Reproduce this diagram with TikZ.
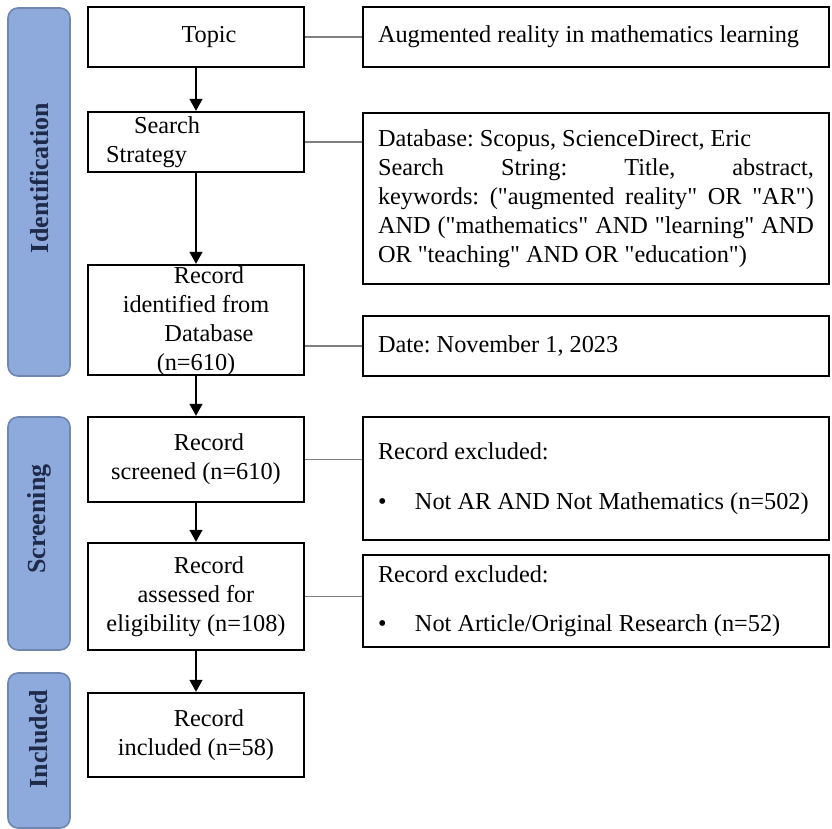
\documentclass[tikz,border=0pt]{standalone}
\usepackage{fontspec}
\setmainfont{Liberation Serif}
\newfontfamily\plainrm{Liberation Serif}
\usetikzlibrary{arrows.meta}
\definecolor{barfill}{HTML}{8EA9DB}
\definecolor{bardraw}{HTML}{6F86AE}
\definecolor{barlab}{HTML}{1F2A48}
\definecolor{linkgray}{HTML}{7F7F7F}
\begin{document}
\begin{tikzpicture}[x=0.5pt,y=-0.5pt,
  txt/.style={font=\fontsize{12.15pt}{14.5pt}\selectfont\frenchspacing},
  mainbox/.style={draw=black, line width=1.2pt, fill=white, minimum width=108pt,
    inner xsep=4pt, inner ysep=0pt, align=flush center, txt},
  sidebox/.style={draw=black, line width=1.2pt, fill=white, minimum width=233pt,
    text width=218pt, inner xsep=7.5pt, inner ysep=0pt, align=flush left, txt},
  phasebar/.style={draw=bardraw, line width=0.8pt, fill=barfill, rounded corners=5pt,
    minimum width=31pt, inner sep=0pt},
  phaselabel/.style={rotate=90, text=barlab, inner sep=0pt,
    font=\fontsize{13pt}{15pt}\selectfont\bfseries},
  flow/.style={draw=black, line width=0.7pt, -{Triangle[width=6.5pt,length=6pt]}},
  link/.style={draw=linkgray, line width=0.7pt}]
\useasboundingbox (0,0) rectangle (832,829);

% phase bars
\node[phasebar, minimum height=184pt] (idbar) at (39,192) {};
\node[phaselabel] (idlab) at (39,178) {Identification};
\node[phasebar, minimum height=116.5pt] (scbar) at (39,533.5) {};
\node[phaselabel] (sclab) at (39,519) {Screening};
\node[phasebar, minimum height=77.5pt] (inbar) at (39,750.5) {};
\node[phaselabel] (inlab) at (39,739) {Included};

% main column
\node[mainbox, minimum height=30pt] (topic) at (196,37) {\hspace*{13pt}Topic};
\node[mainbox, minimum height=30pt, text width=90pt, inner xsep=9pt, align=flush left]
  (search) at (196,142) {\hspace*{14pt}Search\\Strategy};
\node[mainbox, minimum height=55pt] (ident) at (196,320) {};
\node[txt, align=flush center, inner sep=0pt] (identtext) at (196,321.5)
  {\hspace*{13pt}Record\\identified from\\\hspace*{13pt}Database\\(n=610)};
\node[mainbox, minimum height=42.5pt] (screened) at (196,459.5)
  {\hspace*{13pt}Record\\screened (n=610)};
\node[mainbox, minimum height=53.5pt] (assessed) at (196,596.5)
  {\hspace*{13pt}Record\\assessed for\\eligibility (n=108)};
\node[mainbox, minimum height=42pt] (included) at (196,735)
  {\hspace*{13pt}Record\\included (n=58)};

% right column
\node[sidebox, minimum height=30pt] (rtopic) at (596,37)
  {Augmented reality in mathematics learning};
\node[sidebox, minimum height=85.5pt] (rsearch) at (596,198.5)
  {\plainrm Database: Scopus, ScienceDirect, Eric\\
   \makebox[218pt][s]{Search String: Title, abstract,}\\
   \makebox[218pt][s]{keywords: ("augmented reality" OR "AR")}\\
   \makebox[218pt][s]{AND ("mathematics" AND "learning" AND}\\
   OR "teaching" AND OR "education")};
\node[sidebox, minimum height=30pt] (rdate) at (596,346)
  {Date: November 1, 2023};
\node[sidebox, minimum height=61.5pt] (rexc1) at (596,478.5)
  {Record excluded:\\[10.5pt]\makebox[18.5pt][l]{\textbullet}Not AR AND Not Mathematics (n=502)};
\node[sidebox, minimum height=46pt] (rexc2) at (596,601)
  {Record excluded:\\[10pt]\makebox[18.5pt][l]{\textbullet}Not Article/Original Research (n=52)};

% flow arrows
\draw[flow] (topic) -- (search);
\draw[flow] (search) -- (ident);
\draw[flow] (ident) -- (screened);
\draw[flow] (screened) -- (assessed);
\draw[flow] (assessed) -- (included);

% side links
\draw[link] (topic.east) -- (rtopic.west);
\draw[link] (search.east) -- (search.east -| rsearch.west);
\draw[link] (rdate.west) -- (rdate.west -| ident.east);
\draw[link] (screened.east) -- (screened.east -| rexc1.west);
\draw[link] (assessed.east) -- (assessed.east -| rexc2.west);
\end{tikzpicture}
\end{document}
